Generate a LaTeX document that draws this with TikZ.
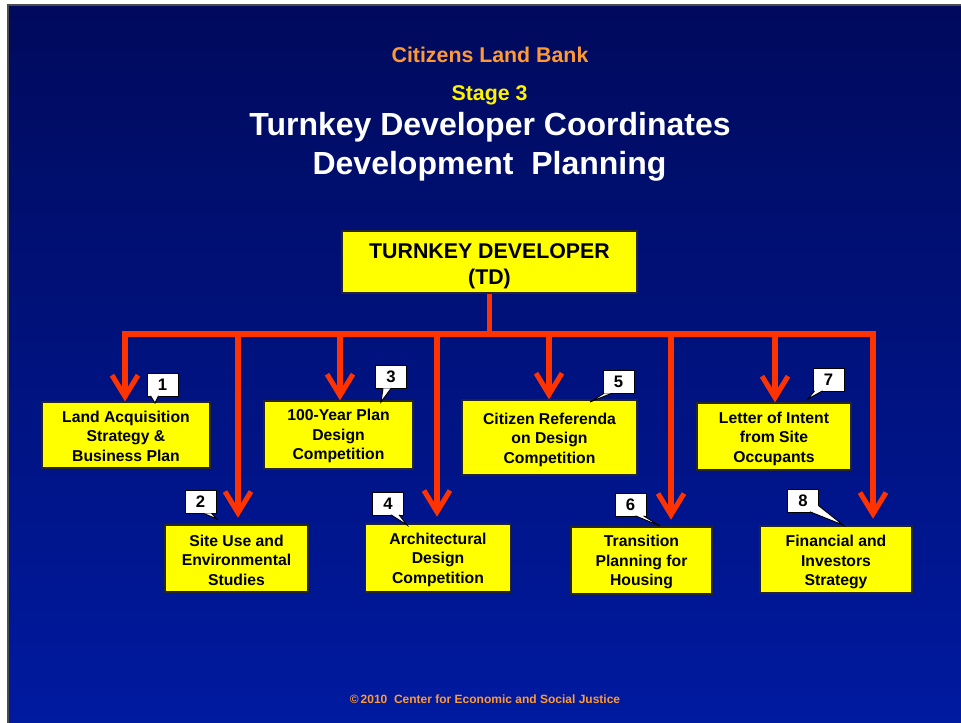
\documentclass[tikz,border=0pt]{standalone}
\usepackage{fontspec}
\setmainfont{Liberation Sans}
\usetikzlibrary{arrows.meta,calc}
\definecolor{bgtop}{RGB}{0,10,92}
\definecolor{bgbot}{RGB}{0,26,160}
\definecolor{ttlorange}{RGB}{255,153,51}
\definecolor{boxyellow}{RGB}{255,255,0}
\definecolor{linered}{RGB}{255,51,0}
\newcommand\calloutptr[3]{\fill[white] #1 -- #3 -- #2 -- cycle; \draw[callline] #1 -- #3 -- #2;}
\begin{document}
\begin{tikzpicture}[x=0.75pt,y=-0.75pt,
  box/.style={draw=black!85, fill=boxyellow, line width=0.9pt, inner sep=0pt},
  boxtxt/.style={inner sep=0pt, align=center, font=\bfseries\fontsize{11.8}{14.6}\selectfont},
  callout/.style={draw=black, fill=white, line width=0.7pt, inner sep=0pt,
    minimum width={31*0.75pt}, minimum height={23*0.75pt},
    font=\bfseries\fontsize{12.5}{14}\selectfont},
  callline/.style={draw=black, line width=0.7pt},
  bus/.style={draw=linered, line width=3.8pt},
  arr/.style={bus, -{Straight Barb[length=16pt,width=19.5pt]}},
  ttl/.style={anchor=base, inner sep=0pt},
]
\useasboundingbox (0,0) rectangle (961,723);
\fill[white] (0,0) rectangle (961,723);
\shade[top color=bgtop, bottom color=bgbot] (8,5) rectangle (961,723);
\draw[black!70, line width=1pt] (8,723) -- (8,5) -- (961,5);

% titles
\node[ttl, text=ttlorange, font=\bfseries\fontsize{16}{19}\selectfont] (tA) at (490,63) {Citizens Land Bank};
\node[ttl, text=yellow, font=\bfseries\fontsize{16}{19}\selectfont] (tB) at (489.5,101) {Stage 3};
\node[ttl, text=white, font=\bfseries\fontsize{24}{28}\selectfont] (tC) at (490,136) {Turnkey Developer Coordinates};
\node[ttl, text=white, font=\bfseries\fontsize{24}{28}\selectfont] (tD) at (489.5,175) {Development\ \ Planning};

% top box
\node[box, minimum width={295*0.75pt}, minimum height={62*0.75pt}] (td) at (489.5,262) {};
\node[boxtxt, font=\bfseries\fontsize{16}{19.4}\selectfont] (tdt) at ($(td.center)+(0,4)$) {TURNKEY DEVELOPER\\(TD)};

% boxes
\node[box, minimum width={168*0.75pt}, minimum height={66*0.75pt}] (b1) at (126,435) {};
\node[box, minimum width={143*0.75pt}, minimum height={67*0.75pt}] (b2) at (236.5,558.5) {};
\node[box, minimum width={149*0.75pt}, minimum height={68*0.75pt}] (b3) at (338.5,435) {};
\node[box, minimum width={145*0.75pt}, minimum height={68*0.75pt}] (b4) at (438,558) {};
\node[box, minimum width={175*0.75pt}, minimum height={75*0.75pt}] (b5) at (549.5,437.5) {};
\node[box, minimum width={141*0.75pt}, minimum height={67*0.75pt}] (b6) at (641.5,560.5) {};
\node[box, minimum width={154*0.75pt}, minimum height={67*0.75pt}] (b7) at (774,436.5) {};
\node[box, minimum width={152*0.75pt}, minimum height={67*0.75pt}] (b8) at (836,559.5) {};
\node[boxtxt] (b1t) at ($(b1.center)+(0,1)$) {Land Acquisition\\Strategy \&\\Business Plan};
\node[boxtxt] (b2t) at ($(b2.center)+(0,1.5)$) {Site Use and\\Environmental\\Studies};
\node[boxtxt] (b3t) at ($(b3.center)+(0,1)$) {100-Year Plan\\Design\\Competition};
\node[boxtxt] (b4t) at ($(b4.center)+(0,1.5)$) {Architectural\\Design\\Competition};
\node[boxtxt] (b5t) at ($(b5.center)+(0,2)$) {Citizen Referenda\\on Design\\Competition};
\node[boxtxt] (b6t) at ($(b6.center)+(0,1.5)$) {Transition\\Planning for\\Housing};
\node[boxtxt] (b7t) at ($(b7.center)+(0,2)$) {Letter of Intent\\from Site\\Occupants};
\node[boxtxt] (b8t) at ($(b8.center)+(0,2.5)$) {Financial and\\Investors\\Strategy};

% connectors
\coordinate (j) at (489.5,334);
\coordinate (a1) at (125,334);
\coordinate (a2) at (238,334);
\coordinate (a3) at (340,334);
\coordinate (a4) at (437,334);
\coordinate (a5) at (549,334);
\coordinate (a6) at (671,334);
\coordinate (a7) at (775,334);
\coordinate (a8) at (873,334);
\draw[bus] (td.south) -- (j);
\draw[bus, line cap=rect] (a1) -- (a8);
\draw[arr] (a1) -- (a1 |- b1.north);
\draw[arr] (a3) -- (a3 |- b3.north);
\draw[arr] (a5) -- (a5 |- b5.north);
\draw[arr] (a7) -- (a7 |- b7.north);
\draw[arr, shorten >=5pt] (a2) -- (a2 |- b2.north);
\draw[arr, shorten >=5pt] (a4) -- (a4 |- b4.north);
\draw[arr, shorten >=5pt] (a6) -- (a6 |- b6.north);
\draw[arr, shorten >=5pt] (a8) -- (a8 |- b8.north);

% callouts
\node[callout] (c1) at (162.5,384.5) {1};
\node[callout] (c2) at (200.5,502) {2};
\node[callout] (c3) at (391,377) {3};
\node[callout] (c4) at (388,503.5) {4};
\node[callout] (c5) at (618.5,382) {5};
\node[callout] (c6) at (630.5,504.5) {6};
\node[callout] (c7) at (828.5,379.5) {7};
\node[callout] (c8) at (803,500.5) {8};
\coordinate (p1) at (155,403);
\coordinate (p2) at (217,519);
\coordinate (p3) at (381,402);
\coordinate (p4) at (407,525);
\coordinate (p5) at (590,402);
\coordinate (p6) at (660,526);
\coordinate (p7) at (808,399);
\coordinate (p8) at (843,525);
\calloutptr{($(c1.south west)+(4,-0.6)$)}{($(c1.south west)+(12,-0.6)$)}{(p1)}
\calloutptr{($(c2.south west)+(19,-0.6)$)}{($(c2.south west)+(27,-0.6)$)}{(p2)}
\calloutptr{($(c3.south west)+(8,-0.6)$)}{($(c3.south west)+(16,-0.6)$)}{(p3)}
\calloutptr{($(c4.south west)+(19,-0.6)$)}{($(c4.south west)+(27,-0.6)$)}{(p4)}
\calloutptr{($(c5.south west)+(1.5,-0.6)$)}{($(c5.south west)+(9,-0.6)$)}{(p5)}
\calloutptr{($(c6.south west)+(21,-0.6)$)}{($(c6.south west)+(29,-0.6)$)}{(p6)}
\calloutptr{($(c7.south west)+(2,-0.6)$)}{($(c7.south west)+(10,-0.6)$)}{(p7)}
\calloutptr{($(c8.south west)+(23,-0.6)$)}{($(c8.south east)+(-0.6,-7)$)}{(p8)}

% footer
\node[ttl, text=ttlorange, font=\bfseries\fontsize{9}{11}\selectfont] (ft) at (485,703) {©\,2010\ \ Center for Economic and Social Justice};
\end{tikzpicture}
\end{document}
